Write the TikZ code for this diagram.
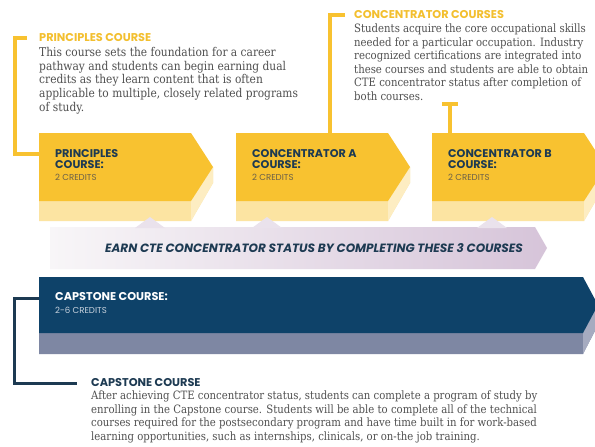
\documentclass[tikz,border=0pt]{standalone}
\usepackage{fontspec}
\setmainfont{DejaVu Serif}
\newfontfamily\bodyfont{DejaVu Serif}[FakeStretch=0.88]
\newfontfamily\hfont{Poppins}
\definecolor{cyellow}{HTML}{F8C230}
\definecolor{cyellowlt}{HTML}{FCE4A2}
\definecolor{cyellowside}{HTML}{FDEDC2}
\definecolor{cnavy}{HTML}{0E4269}
\definecolor{cnavytxt}{HTML}{1D3A52}
\definecolor{cgray}{HTML}{7E87A3}
\definecolor{cgrayside}{HTML}{A6ABC0}
\definecolor{cbody}{HTML}{505050}
\definecolor{cpurple}{HTML}{D6C4D9}
\definecolor{cpurplelt}{HTML}{F8F6F8}
\definecolor{cpeak}{HTML}{EAE2EC}
\definecolor{ccred}{HTML}{6A6048}
\definecolor{ccredw}{HTML}{C9D3DE}
\definecolor{cheady}{HTML}{F3BF2E}
\begin{document}
\begin{tikzpicture}[x=1pt,y=-1pt,
  head/.style={font=\hfont\bfseries\fontsize{11.3}{13}\selectfont, inner sep=0, anchor=west},
  body/.style={font=\bodyfont\fontsize{11.5}{13.6}\selectfont, text=cbody, inner sep=0, anchor=north west, align=left},
  boxlbl/.style={font=\hfont\bfseries\fontsize{11.2}{11}\selectfont, text=cnavytxt, inner sep=0, anchor=north west, align=left},
  cred/.style={font=\hfont\fontsize{8.6}{10}\selectfont, text=ccred, inner sep=0, anchor=west},
  ybrk/.style={draw=cyellow, line width=3.5pt},
  nbrk/.style={draw=cnavytxt, line width=3pt}]
\clip (0,0) rectangle (595,447);
\fill[white] (0,0) rectangle (595,447);

% purple band
\shade[left color=cpurplelt, right color=cpurple] (50,227) -- (535,227) -- (547,248) -- (535,269) -- (50,269) -- cycle;

% yellow course boxes
\foreach \x in {39,236,432} {
  \fill[cyellowlt] (\x,201) -- (\x+152,201) -- (\x+174,167) -- (\x+174,183) -- (\x+152,221) -- (\x,221) -- cycle;
  \fill[cyellowside] (\x+152,201) -- (\x+174,167) -- (\x+174,183) -- (\x+152,221) -- cycle;
  \fill[cyellow] (\x,133) -- (\x+152,133) -- (\x+174,167) -- (\x+152,201) -- (\x,201) -- cycle;
}
\foreach \px in {150,267,492} {
  \fill[cpeak] (\px-15,228) -- (\px,217) -- (\px+15,228) -- cycle;
}

% navy capstone band
\fill[cgray] (39,333) -- (583,333) -- (598,305) -- (598,325) -- (583,354) -- (39,354) -- cycle;
\fill[cgrayside] (583,333) -- (598,305) -- (598,325) -- (583,354) -- cycle;
\fill[cnavy] (39,277) -- (583,277) -- (598,305) -- (583,333) -- (39,333) -- cycle;

% anchor coordinates for brackets
\coordinate (pbox) at (39,154);
\coordinate (cabox) at (330,133);
\coordinate (cbbox) at (450,133);
\coordinate (cbar) at (450,104);
\coordinate (capbox) at (39,298);

% principles description
\node[head, text=cheady] (phead) at (39,38) {PRINCIPLES COURSE};
\node[body, font=\bodyfont\fontsize{12.1}{13.7}\selectfont] (pbody) at (39,47) {This course sets the foundation for a career\\pathway and students can begin earning dual\\credits as they learn content that is often\\applicable to multiple, closely related programs\\of study.};

% concentrator description
\node[head, text=cheady] (chead) at (354,15) {CONCENTRATOR COURSES};
\node[body] (cbody) at (354,23.5) {Students acquire the core occupational skills\\needed for a particular occupation. Industry\\recognized certifications are integrated into\\these courses and students are able to obtain\\CTE concentrator status after completion of\\both courses.};

% box labels
\node[boxlbl] (plbl) at (55,149) {PRINCIPLES\\COURSE:};
\node[cred] (pcred) at (55,177) {2 CREDITS};
\node[boxlbl] (albl) at (252,149) {CONCENTRATOR A\\COURSE:};
\node[cred] (acred) at (252,177) {2 CREDITS};
\node[boxlbl] (blbl) at (448,149) {CONCENTRATOR B\\COURSE:};
\node[cred] (bcred) at (448,177) {2 CREDITS};

% earn band text
\node[font=\hfont\bfseries\itshape\fontsize{12}{14}\selectfont, text=cnavytxt, inner sep=0] (earn) at (314,248) {EARN CTE CONCENTRATOR STATUS BY COMPLETING THESE 3 COURSES};

% capstone band text
\node[head, text=white] (caplbl) at (55,297) {CAPSTONE COURSE:};
\node[cred, text=ccredw] (capcred) at (55,310) {2-6 CREDITS};

% capstone description
\node[head, text=cnavytxt] (caphead) at (91,383) {CAPSTONE COURSE};
\node[body] (capbody) at (91,390.5) {After achieving CTE concentrator status, students can complete a program of study by\\enrolling in the Capstone course. Students will be able to complete all of the technical\\courses required for the postsecondary program and have time built in for work-based\\learning opportunities, such as internships, clinicals, or on-the job training.};

% brackets
\draw[ybrk] ([xshift=-12pt]phead.west) -- ++(-12,0) |- (pbox);
\draw[ybrk] ([xshift=-9pt]chead.west) -| (cabox);
\draw[ybrk] ([xshift=-8pt]cbar) -- ([xshift=8pt]cbar);
\draw[ybrk] (cbar) -- (cbbox);
\draw[nbrk] (capbox) -- ++(-25,0) |- ([xshift=-14pt]caphead.west);
\end{tikzpicture}
\end{document}
